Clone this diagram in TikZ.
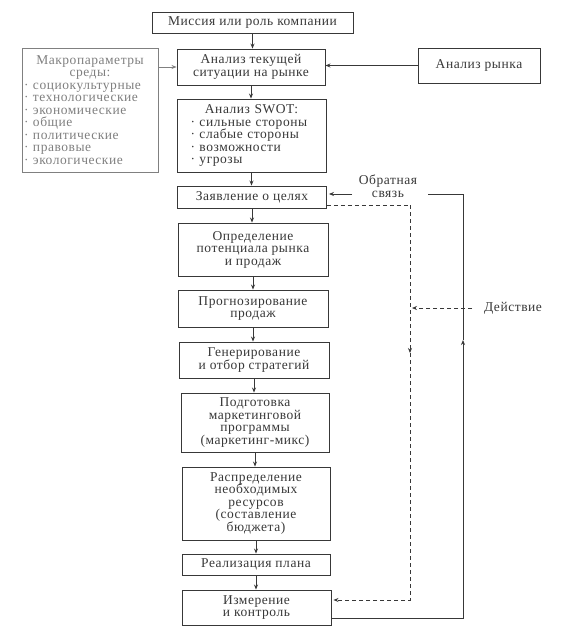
\documentclass[tikz,border=0pt]{standalone}
\usepackage{fontspec}
\setmainfont{Liberation Serif}[LetterSpace=4]
\usetikzlibrary{arrows.meta}
\definecolor{ink}{HTML}{383838}
\definecolor{lite}{HTML}{808080}
\newcommand{\tightlines}{\fontsize{13.5}{12.5}\selectfont\lineskiplimit=-20pt\lineskip=0pt}
\begin{document}
\begin{tikzpicture}[x=1pt,y=1pt,
  box/.style={draw=ink,line width=0.9pt,text=ink,align=center,inner sep=1pt,
    font=\tightlines},
  litebox/.style={draw=lite,line width=0.8pt,text=lite,inner sep=1pt,
    font=\tightlines},
  conn/.style={draw=ink,line width=0.8pt},
  tip/.style={-{Stealth[length=5pt,width=4pt]}},
  dsh/.style={draw=ink,line width=0.8pt,dash pattern=on 4pt off 3pt},
  lbl/.style={text=ink,align=center,font=\tightlines}]
\useasboundingbox (0,0) rectangle (564,-635);
\fill[white] (0,0) rectangle (564,-635);
% central column
\node[box,minimum width=201,minimum height=21] (mission) at (252.5,-22.5) {Миссия или роль компании};
\node[box,minimum width=148,minimum height=36] (analysis) at (251,-67) {Анализ текущей\\ситуации на рынке};
\node[box,minimum width=149,minimum height=73,align=left,text width=142] (swot) at (251.5,-135.5)
  {\centering Анализ SWOT:\par\raggedright
   \hspace*{10pt}· сильные стороны\\\hspace*{10pt}· слабые стороны\\\hspace*{10pt}· возможности\\\hspace*{10pt}· угрозы};
\node[box,minimum width=149,minimum height=22] (goals) at (252,-197) {Заявление о целях};
\node[box,minimum width=150,minimum height=53] (opr) at (253,-249.5) {Определение\\потенциала рынка\\и продаж};
\node[box,minimum width=150,minimum height=37] (prog) at (253,-308.5) {Прогнозирование\\продаж};
\node[box,minimum width=150,minimum height=36] (gen) at (254,-360) {Генерирование\\и отбор стратегий};
\node[box,minimum width=148,minimum height=59] (podg) at (255,-422.5) {Подготовка\\маркетинговой\\программы\\(маркетинг-микс)};
\node[box,minimum width=148,minimum height=73] (rasp) at (256,-503.5) {Распределение\\необходимых\\ресурсов\\(составление\\бюджета)};
\node[box,minimum width=148,minimum height=21] (real) at (256,-564.5) {Реализация плана};
\node[box,minimum width=149,minimum height=35] (izm) at (256.5,-607.5) {Измерение\\и контроль};
% side boxes
\node[litebox,minimum width=136,minimum height=124,text width=132] (macro) at (90,-110)
  {\centering Макропараметры\\среды:\par\raggedright · социокультурные\\· технологические\\· экономические\\· общие\\· политические\\· правовые\\· экологические};
\node[box,minimum width=122,minimum height=35] (market) at (479,-65.5) {Анализ рынка};
% vertical arrows
\foreach \a/\b in {mission/analysis,analysis/swot,swot/goals,goals/opr,opr/prog,prog/gen,gen/podg,podg/rasp,rasp/real,real/izm}
  \draw[conn,tip] (\a.south) -- (\a.south |- \b.north);
% side arrows
\draw[draw=lite,line width=0.7pt,tip] (macro.east |- analysis.west) -- (analysis.west);
\draw[conn,tip] (market.west) -- (analysis.east |- market.west);
% dashed action loop
\coordinate (dA) at (410,-205);
\coordinate (dM) at (410,-353);
\coordinate (dB) at (410,-600);
\draw[dsh] (goals.east |- dA) -- (dA);
\draw[dsh,tip] (dA) -- (dM);
\draw[dsh,tip] (dM) -- (dB) -- ([xshift=2pt]izm.east |- dB);
\coordinate (act) at (472,-308);
\draw[dsh,tip] (act) -- ([xshift=2pt]dA |- act);
\node[lbl] (deystvie) at (513,-308) {Действие};
% solid feedback loop
\coordinate (fA) at (463,-618);
\coordinate (fM) at (463,-340);
\coordinate (fB) at (463,-194);
\coordinate (fC) at (428,-194);
\coordinate (fD) at (352,-194);
\draw[conn,tip] (izm.east |- fA) -- (fA) -- (fM);
\draw[conn] (fM) -- (fB) -- (fC);
\draw[conn,tip] (fD) -- ([xshift=2pt]goals.east |- fD);
\node[lbl] (obr) at (388,-186) {Обратная\\связь};
\end{tikzpicture}
\end{document}
